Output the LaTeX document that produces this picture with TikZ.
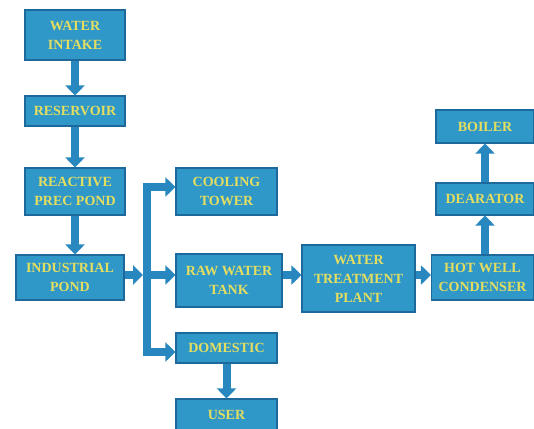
\documentclass[tikz,border=0pt]{standalone}
\usepackage{fontspec}
\setmainfont{Liberation Serif}
\usetikzlibrary{arrows.meta}
\definecolor{boxblue}{RGB}{48,152,200}
\definecolor{edgeblue}{RGB}{30,105,155}
\definecolor{pipeblue}{RGB}{40,135,190}
\definecolor{labelyellow}{RGB}{228,222,96}

\tikzset{
  plantbox/.style={draw=edgeblue, line width=1.2pt, fill=boxblue, text=labelyellow,
    font=\bfseries\fontsize{14}{19}\selectfont, align=center, inner sep=1pt},
  pipe/.style={draw=pipeblue, line width=8pt},
  flow/.style={pipe, -{Triangle[length=10pt,width=19pt]}}
}

\begin{document}
\begin{tikzpicture}[x=1pt,y=-1pt]
                \useasboundingbox (0,0) rectangle (534,428);

                % left column
                \node[plantbox, minimum width=100pt, minimum height=50pt] (intake) at (75,35) {WATER\\INTAKE};
                \node[plantbox, minimum width=100pt, minimum height=30pt] (reservoir) at (75,111) {RESERVOIR};
                \node[plantbox, minimum width=100pt, minimum height=47pt] (reactive) at (75,191.5) {REACTIVE\\PREC POND};
                \node[plantbox, minimum width=108pt, minimum height=45pt] (industrial) at (70,277.5) {INDUSTRIAL\\POND};

                % middle column
                \node[plantbox, minimum width=101pt, minimum height=47pt] (cooling) at (226.5,191.5) {COOLING\\TOWER};
                \node[plantbox, minimum width=106pt, minimum height=53pt] (rawtank) at (229,280.5) {RAW WATER\\TANK};
                \node[plantbox, minimum width=101pt, minimum height=30pt] (domestic) at (226.5,348) {DOMESTIC};
                \node[plantbox, minimum width=101pt, minimum height=32pt] (user) at (226.5,415) {USER};

                % treatment and right column
                \node[plantbox, minimum width=113pt, minimum height=67pt] (treatment) at (358.5,278.5) {WATER\\TREATMENT\\PLANT};
                \node[plantbox, minimum width=102pt, minimum height=45pt] (hotwell) at (482.5,277.5) {HOT WELL\\CONDENSER};
                \node[plantbox, minimum width=98pt, minimum height=32pt] (dearator) at (485,199) {DEARATOR};
                \node[plantbox, minimum width=98pt, minimum height=33pt] (boiler) at (485,126.5) {BOILER};

                % main line and distribution bus
                \coordinate (mainline) at (0,275);
                \coordinate (bustop) at (147,187);
                \coordinate (busbot) at (147,352);

                % downward flow
                \draw[flow] (intake) -- (reservoir);
                \draw[flow] (reservoir) -- (reactive);
                \draw[flow] (reactive) -- (reactive |- industrial.north);
                \draw[flow] (domestic) -- (user);

                % distribution
                \draw[pipe, line cap=rect] (bustop) -- (busbot);
                \draw[flow, shorten >=4pt] (industrial.east |- mainline) -- (bustop |- mainline);
                \draw[flow] (bustop) -- (bustop -| cooling.west);
                \draw[flow] (bustop |- mainline) -- (rawtank.west |- mainline);
                \draw[flow] (busbot) -- (busbot -| domestic.west);

                % to the boiler
                \draw[flow] (rawtank.east |- mainline) -- (treatment.west |- mainline);
                \draw[flow] (treatment.east |- mainline) -- (hotwell.west |- mainline);
                \draw[flow] (dearator |- hotwell.north) -- (dearator);
                \draw[flow] (dearator) -- (boiler);

\end{tikzpicture}
\end{document}
